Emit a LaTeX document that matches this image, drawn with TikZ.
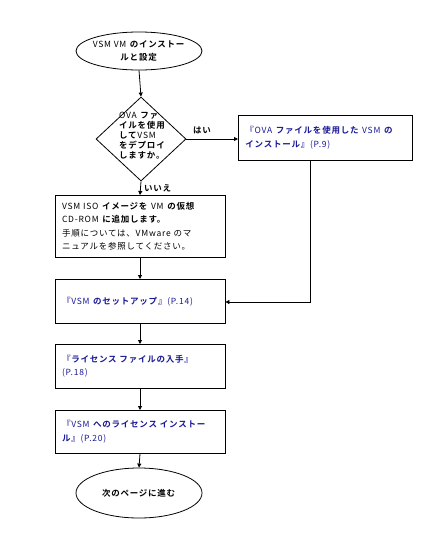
\documentclass[tikz,border=0pt]{standalone}
\usepackage{fontspec}
\setmainfont{Noto Sans CJK JP}[BoldFont={Noto Sans CJK JP Bold},LetterSpace=9]
\usetikzlibrary{shapes.geometric,arrows.meta}
\definecolor{linkblue}{RGB}{24,24,150}
\newcommand{\J}[1]{\textbf{#1}}
\tikzset{
  flow/.style={draw=black,line width=0.8pt},
  arr/.style={flow,-{Triangle[length=4pt,width=4pt]}},
  boxnode/.style={draw=black,line width=0.8pt,rectangle,minimum width=170pt,text width=156pt,inner xsep=7pt,align=left,anchor=north,font=\fontsize{8.5}{13.5}\selectfont},
  ell/.style={draw=black,line width=0.8pt,ellipse,minimum width=126pt,inner sep=0pt},
  txt/.style={inner sep=0pt,font=\fontsize{8.5}{12}\selectfont},
  lnk/.style={text=linkblue}
}
\begin{document}
\begin{tikzpicture}[x=1pt,y=-1pt]
\useasboundingbox (0,0) rectangle (431,554);
% start ellipse
\node[ell,minimum height=38pt] (start) at (139,51) {};
\node[txt,align=center,font=\fontsize{8.5}{13}\selectfont] (starttxt) at (139,51) {VSM VM \J{のインストー}\\\J{ルと設定}};
% decision
\node[draw=black,line width=0.8pt,diamond,minimum width=90pt,minimum height=84pt,inner sep=0pt] (dec) at (141,139) {};
\node[txt,align=left,anchor=north west,font=\fontsize{8.5}{10}\selectfont] (dectxt) at (119,112) {OVA \J{ファ}\\\J{イルを使用}\\\J{して}VSM\\\J{をデプロイ}\\\J{しますか。}};
% OVA box
\node[boxnode,minimum width=174pt,text width=160pt,minimum height=45pt,lnk,anchor=north west] (ova) at (238,115) {\J{『}OVA \J{ファイルを使用した} VSM \J{の}\\\J{インストール』}(P.9)};
% ISO box
\node[boxnode,minimum height=62pt] (iso) at (140,195) {VSM ISO \J{イメージを} VM \J{の仮想}\\CD-ROM \J{に追加します。}\\手順については、VMware のマ\\ニュアルを参照してください。};
% setup box
\node[boxnode,minimum height=44pt,lnk] (setup) at (140,279) {\J{『}VSM \J{のセットアップ』}(P.14)};
% license file box
\node[boxnode,minimum height=44pt,lnk] (lic) at (140,344) {\J{『ライセンス ファイルの入手』}\\(P.18)};
% license install box
\node[boxnode,minimum height=43pt,lnk] (inst) at (140,410) {\J{『}VSM \J{へのライセンス インストー}\\\J{ル』}(P.20)};
% end ellipse
\node[ell,minimum height=50pt] (stop) at (139,493) {};
\node[txt] (stoptxt) at (139,493) {\J{次のページに進む}};
% connectors
\draw[arr] (start.south) -- (dec.north);
\draw[arr] (dec.east) -- (ova.west |- dec.east) coordinate (ovain);
\node[txt,anchor=south west] (yes) at (193,134) {\J{はい}};
\draw[arr] (dec.south) -- (iso.north);
\node[txt,anchor=west] (no) at (144,188) {\J{いいえ}};
\draw[arr] (iso.south) -- (setup.north);
\coordinate (corner) at (310,302);
\draw[arr] (ova.south -| corner) -- (corner) -- (setup.east |- corner);
\draw[arr] (setup.south) -- (lic.north);
\draw[arr] (lic.south) -- (inst.north);
\draw[arr] (inst.south) -- (stop.north);
\end{tikzpicture}
\end{document}
